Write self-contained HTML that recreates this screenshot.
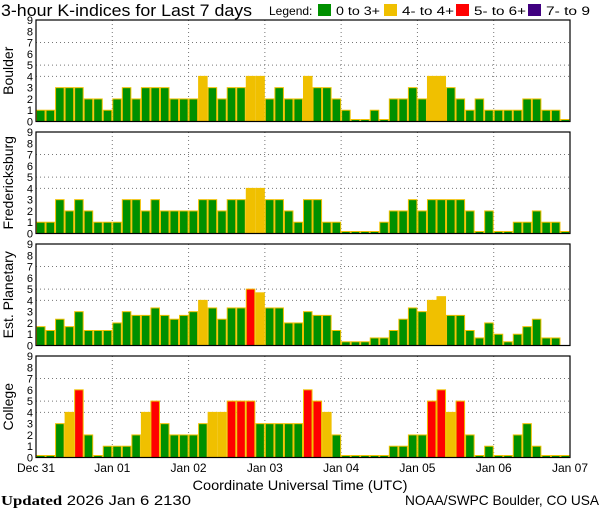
<!DOCTYPE html>
<html><head><meta charset="utf-8"><style>
body{margin:0;background:#fff}
svg{display:block;font-family:"Liberation Sans",sans-serif}
</style></head><body>
<svg id="c" width="600" height="510" viewBox="0 0 600 510">
<text x="1" y="16" font-size="17" textLength="251" lengthAdjust="spacingAndGlyphs">3-hour K-indices for Last 7 days</text>
<g font-size="12">
<text x="269" y="15">Legend:</text>
<rect x="318" y="4" width="13" height="12" fill="#009000"/>
<text x="336" y="15" textLength="44" lengthAdjust="spacingAndGlyphs">0 to 3+</text>
<rect x="384" y="4" width="13" height="12" fill="#f0c000"/>
<text x="402" y="15" textLength="52" lengthAdjust="spacingAndGlyphs">4- to 4+</text>
<rect x="456" y="4" width="13" height="12" fill="#ff0000"/>
<text x="474" y="15" textLength="52" lengthAdjust="spacingAndGlyphs">5- to 6+</text>
<rect x="528" y="4" width="13" height="12" fill="#400080"/>
<text x="546" y="15" textLength="44" lengthAdjust="spacingAndGlyphs">7- to 9</text>
</g>
<g id="panels"></g>
<text x="300" y="490" font-size="14" text-anchor="middle" textLength="215" lengthAdjust="spacingAndGlyphs">Coordinate Universal Time (UTC)</text>
<text x="1" y="505" font-size="14" textLength="190" lengthAdjust="spacingAndGlyphs"><tspan font-family="Liberation Serif,serif" font-weight="bold">Updated</tspan> 2026 Jan  6 2130</text>
<text x="599" y="505" font-size="14" text-anchor="end" textLength="194" lengthAdjust="spacingAndGlyphs">NOAA/SWPC Boulder, CO USA</text>
</svg>
<script>
const stations = ["Boulder","Fredericksburg","Est. Planetary","College"];
const dayLabels = ["Dec 31","Jan 01","Jan 02","Jan 03","Jan 04","Jan 05","Jan 06","Jan 07"];
const yTicks = [0,1,2,3,4,5,6,7,8,9];
const boulder = [1,1,3,3,3,2,2,1, 2,3,2,3,3,3,2,2, 2,4,3,2,3,3,4,4, 2,3,2,2,4,3,3,2, 1,0,0,1,0,2,2,3, 2,4,4,3,2,1,2,1, 1,1,1,2,2,1,1,0];
const fredericksburg = [1,1,3,2,3,2,1,1, 1,3,3,2,3,2,2,2, 2,3,3,2,3,3,4,4, 3,3,2,1,3,3,1,1, 0,0,0,0,1,2,2,3, 2,3,3,3,3,2,0,2, 0,0,1,1,2,1,1,0];
const planetary = [1.67,1.33,2.33,1.67,3,1.33,1.33,1.33, 2,3,2.67,2.67,3.33,2.67,2.33,2.67, 3,4,3.33,2.33,3.33,3.33,5,4.67, 3.33,3.33,2,2,3,2.67,2.67,1.33, 0.33,0.33,0.33,0.67,0.67,1.33,2.33,3.33, 3,4,4.33,2.67,2.67,1.33,0.67,2, 1,0.33,1,1.67,2.33,0.67,0.67,null];
const college = [0,0,3,4,6,2,0,1, 1,1,2,4,5,3,2,2, 2,3,4,4,5,5,5,3, 3,3,3,3,6,5,4,2, 0,0,0,0,0,1,1,2, 2,5,6,4,5,2,0,1, 0,0,2,3,1,0,0,0];
const series = [boulder,fredericksburg,planetary,college];
const names = ["boulder","fredericksburg","planetary","college"];

const NS="http://www.w3.org/2000/svg";
const X0=36,X1=570,H=101.5,tops=[20,132,244,356];
const nBars=56,bw=(X1-X0)/nBars;
const g=document.getElementById('panels');
function mk(t,a,p){const e=document.createElementNS(NS,t);for(const k in a)e.setAttribute(k,a[k]);(p||g).appendChild(e);return e;}
function xScale(i){return X0+i*bw;}
function yScale(v,p){return tops[p]+H-v*(H/9);}
function col(v){return v>=7?"#400080":v>=5?"#ff0000":v>=4?"#f0c000":"#009000";}
series.forEach((data,p)=>{
  const pg=mk('g',{});
  
  
  const top=tops[p];
  [4,5,7].forEach(v=>{const l=mk('line',{x1:X0,x2:X1,y1:yScale(v,p),y2:yScale(v,p),stroke:'#777','stroke-dasharray':'1,3'},pg);
    
    });
  for(let d=1;d<7;d++){const x=X0+d*8*bw;const l=mk('line',{x1:x,x2:x,y1:top,y2:top+H,stroke:'#777','stroke-dasharray':'1,3'},pg);
    
    }
  data.forEach((v,i)=>{
    if(v===null)return;
    let y=yScale(v,p),h=top+H-y; if(h<2){h=2;y=top+H-2;}
    const r=mk('rect',{x:xScale(i)+0.5,y:y,width:bw-1,height:h,fill:col(v),stroke:'#f0c000','stroke-width':1},pg);
    
    
  });
  const fr=mk('rect',{x:X0,y:top,width:X1-X0,height:H,fill:'none',stroke:'#000','stroke-width':1.2},pg);
  
  
  yTicks.forEach(v=>{const t=mk('text',{x:33,y:yScale(v,p)+4,'font-size':11,'text-anchor':'end'},pg);t.textContent=v;
    
    });
  const cy=top+H/2;
  const tt=mk('text',{x:0,y:0,'font-size':14,'text-anchor':'middle',transform:`translate(13,${cy}) rotate(-90)`},pg);
  tt.textContent=stations[p];
  
  
});
dayLabels.forEach((s,d)=>{const t=mk('text',{x:X0+d*8*bw,y:472,'font-size':12,'text-anchor':'middle'});t.textContent=s;
  
  });
</script>
</body></html>
